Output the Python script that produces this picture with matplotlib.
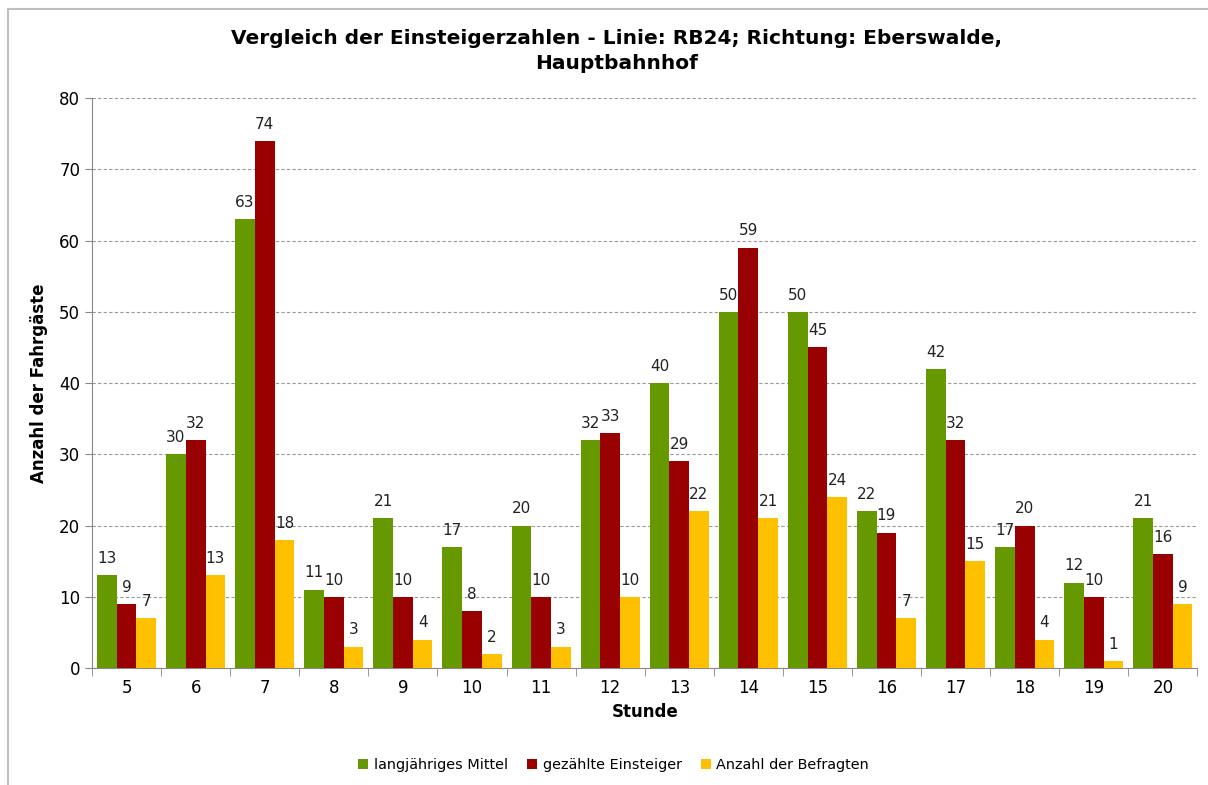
import numpy as np
import matplotlib.pyplot as plt
from matplotlib.patches import Rectangle

hours = [5, 6, 7, 8, 9, 10, 11, 12, 13, 14, 15, 16, 17, 18, 19, 20]
mittel = [13, 30, 63, 11, 21, 17, 20, 32, 40, 50, 50, 22, 42, 17, 12, 21]
gezaehlt = [9, 32, 74, 10, 10, 8, 10, 33, 29, 59, 45, 19, 32, 20, 10, 16]
befragt = [7, 13, 18, 3, 4, 2, 3, 10, 22, 21, 24, 7, 15, 4, 1, 9]
series = [("langjähriges Mittel", mittel, "#669900"),
          ("gezählte Einsteiger", gezaehlt, "#990000"),
          ("Anzahl der Befragten", befragt, "#FFC000")]

plt.rcParams['font.family'] = ['DejaVu Sans']

fig = plt.figure(figsize=(12.08, 7.85), dpi=100)
ax = fig.add_axes([0.0762, 0.149, 0.915, 0.726])

# Rahmen um die ganze Grafik
fig.patches.append(Rectangle((8 / 1208, -0.01), 1.2, 1 - 9 / 785 + 0.01,
                             transform=fig.transFigure, fill=False,
                             edgecolor="#BFBFBF", linewidth=1.5))

x = np.arange(len(hours))
w = 0.285
for i, (name, vals, col) in enumerate(series):
    pos = x + (i - 1) * w
    ax.bar(pos, vals, width=w, color=col, label=name, zorder=3)
    for px, v in zip(pos, vals):
        ax.text(px, v + 1.3, str(v), ha="center", va="bottom", fontsize=11, color="#222222")

ax.set_xlim(-0.5, len(hours) - 0.5)
ax.set_ylim(0, 80)
ax.set_yticks(range(0, 81, 10))
ax.tick_params(axis="y", labelsize=12, length=5, color="#888888", direction="out")
ax.set_xticks(x)
ax.set_xticklabels(hours, fontsize=12)
ax.tick_params(axis="x", length=0, pad=8)
ax.set_xticks(np.arange(-0.5, len(hours)), minor=True)
ax.tick_params(axis="x", which="minor", length=6, color="#888888")
ax.grid(axis="y", linestyle=(0, (3, 2)), color="#999999", linewidth=0.8, zorder=0)

for s in ["top", "right"]:
    ax.spines[s].set_visible(False)
for s in ["left", "bottom"]:
    ax.spines[s].set_color("#888888")

ax.set_xlabel("Stunde", fontsize=12, fontweight="bold", labelpad=4)
ax.set_ylabel("Anzahl der Fahrgäste", fontsize=12, fontweight="bold", labelpad=8)
fig.text(0.51, 1 - 51 / 785, "Vergleich der Einsteigerzahlen - Linie: RB24; Richtung: Eberswalde,\nHauptbahnhof",
         ha="center", va="center", fontsize=14.5, fontweight="bold", linespacing=1.4)

fig.legend(loc="lower center", bbox_to_anchor=(0.508, 0.0), ncol=3, frameon=False,
           fontsize=10.4, handlelength=0.7, handleheight=0.7, columnspacing=1.3, handletextpad=0.4)

fig.savefig("out.png", dpi=100)
